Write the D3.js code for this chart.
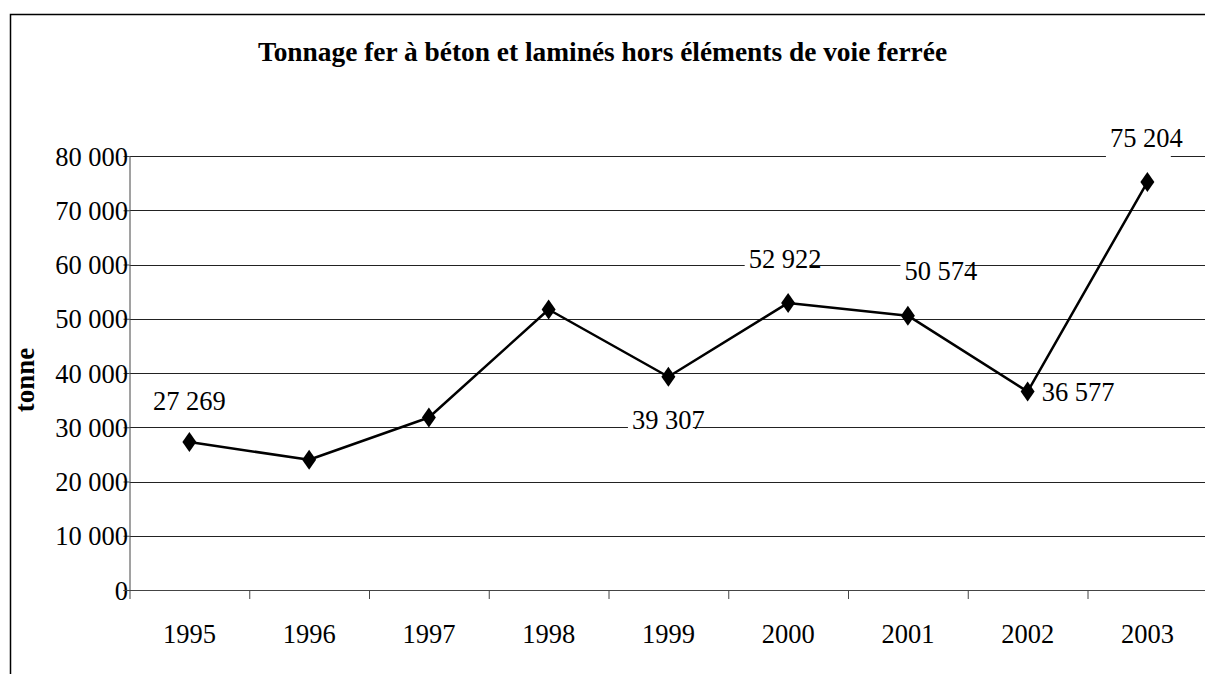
<!DOCTYPE html>
<html>
<head>
<meta charset="utf-8">
<script src="https://cdn.jsdelivr.net/npm/d3@7"></script>
<style>
  html, body { margin: 0; padding: 0; overflow: hidden; background: #fff; }
  svg { display: block; }
  text { font-family: "Liberation Serif", "Times New Roman", serif; }
</style>
</head>
<body>
<svg id="chart"></svg>
<script>
// data
var years = ["1995", "1996", "1997", "1998", "1999", "2000", "2001", "2002", "2003"];
var tonnage = [27269, 24000, 31800, 51700, 39307, 52922, 50574, 36577, 75204];
var labeled = [true, false, false, false, true, true, true, true, true];
var yTicks = [0, 10000, 20000, 30000, 40000, 50000, 60000, 70000, 80000];

var W = 1205, H = 674;
var margin = {top: 156, left: 129.5, bottom: 84},
    plotW = 9 * 119.75,
    plotH = H - margin.top - margin.bottom;

var svg = d3.select("#chart")
    .attr("width", W)
    .attr("height", H);

// outer frame: only the top and left edges are inside the picture
svg.append("path")
    .attr("d", "M10.5," + (H + 10) + "V14.5H" + W)
    .style("fill", "none")
    .style("stroke", "#000")
    .style("stroke-width", 1.5);

svg.append("text")
    .attr("x", 602.5)
    .attr("y", 61)
    .style("text-anchor", "middle")
    .style("font-weight", "bold")
    .style("font-size", "27.4px")
    .text("Tonnage fer à béton et laminés hors éléments de voie ferrée");

svg.append("text")
    .attr("transform", "translate(34,380) rotate(-90)")
    .style("text-anchor", "middle")
    .style("font-weight", "bold")
    .style("font-size", "27px")
    .text("tonne");

var g = svg.append("g")
    .attr("transform", "translate(" + margin.left + "," + margin.top + ")");

var x = d3.scaleBand().domain(years).range([0, plotW]).paddingInner(0).paddingOuter(0);
var xEdge = d3.scaleLinear().domain([0, years.length]).range([0, plotW]);
var y = d3.scaleLinear().domain([0, 80000]).range([plotH, 0]);

var fmt = function(v) { return d3.format(",")(v).replace(/,/g, " "); };

// gridlines
g.append("g")
    .selectAll("line")
    .data(yTicks.slice(1))
  .enter().append("line")
    .attr("x1", 0).attr("x2", W - margin.left)
    .attr("y1", function(d) { return Math.round(y(d)) + 0.5; })
    .attr("y2", function(d) { return Math.round(y(d)) + 0.5; })
    .style("stroke", "#222")
    .style("stroke-width", 1);

// y axis
var yAxis = g.append("g")
    .call(d3.axisLeft(y).tickValues(yTicks).tickSize(6).tickPadding(0).tickFormat(fmt));
yAxis.attr("font-family", null);
yAxis.select(".domain").style("stroke", "#444").attr("d", "M0.5," + plotH + "V0");
yAxis.selectAll(".tick line").style("stroke", "#444");
yAxis.selectAll(".tick text")
    .attr("x", -1.5)
    .attr("dy", "0.34em")
    .style("font-size", "26.5px")
    .style("fill", "#000");

// x axis: ticks on category boundaries, labels in the middle
var xAxis = g.append("g")
    .attr("transform", "translate(0," + plotH + ")")
    .call(d3.axisBottom(xEdge).tickValues(d3.range(0, years.length)).tickSize(9).tickFormat(""));
xAxis.select(".domain").style("stroke", "#444").attr("d", "M-6,0.5H" + (W - margin.left));
xAxis.selectAll(".tick line").style("stroke", "#444");

g.append("g")
    .attr("transform", "translate(0," + plotH + ")")
    .selectAll("text")
    .data(years)
  .enter().append("text")
    .attr("x", function(d) { return x(d) + x.bandwidth() / 2; })
    .attr("y", 53)
    .style("text-anchor", "middle")
    .style("font-size", "26.5px")
    .text(function(d) { return d; });

// data labels (white boxes cut the gridlines behind them)
var labelPos = {
  "1995": {dx: 0, dy: -32, anchor: "middle"},
  "1999": {dx: 0, dy: 52, anchor: "middle"},
  "2000": {dx: -3, dy: -35, anchor: "middle"},
  "2001": {dx: 33, dy: -36, anchor: "middle"},
  "2002": {dx: 14, dy: 9, anchor: "start"},
  "2003": {dx: -1, dy: -35, anchor: "middle"}
};

var pts = years.map(function(yr, i) { return {year: yr, value: tonnage[i], show: labeled[i]}; });

var labels = g.append("g")
    .selectAll("g")
    .data(pts.filter(function(d) { return d.show; }))
  .enter().append("g")
    .attr("transform", function(d) {
      var p = labelPos[d.year];
      return "translate(" + (x(d.year) + x.bandwidth() / 2 + p.dx) + "," + (y(d.value) + p.dy) + ")";
    });

labels.append("text")
    .style("text-anchor", function(d) { return labelPos[d.year].anchor; })
    .style("font-size", "26.5px")
    .text(function(d) { return fmt(d.value); });

labels.insert("rect", "text")
    .each(function() {
      var bb = this.parentNode.querySelector("text").getBBox();
      d3.select(this)
        .attr("x", bb.x - 4)
        .attr("y", -21)
        .attr("width", bb.width - 8)
        .attr("height", 31);
    })
    .style("fill", "#fff");

// series line
var line = d3.line()
    .x(function(d) { return x(d.year) + x.bandwidth() / 2; })
    .y(function(d) { return y(d.value); });

g.append("path")
    .datum(pts)
    .attr("d", line)
    .style("fill", "none")
    .style("stroke", "#000")
    .style("stroke-width", 2.5)
    .style("stroke-linejoin", "round");

// diamond markers
g.append("g")
    .selectAll("path")
    .data(pts)
  .enter().append("path")
    .attr("d", "M0,-10L7,0L0,10L-7,0Z")
    .attr("transform", function(d) {
      return "translate(" + (x(d.year) + x.bandwidth() / 2) + "," + y(d.value) + ")";
    })
    .style("fill", "#000");
</script>
</body>
</html>
